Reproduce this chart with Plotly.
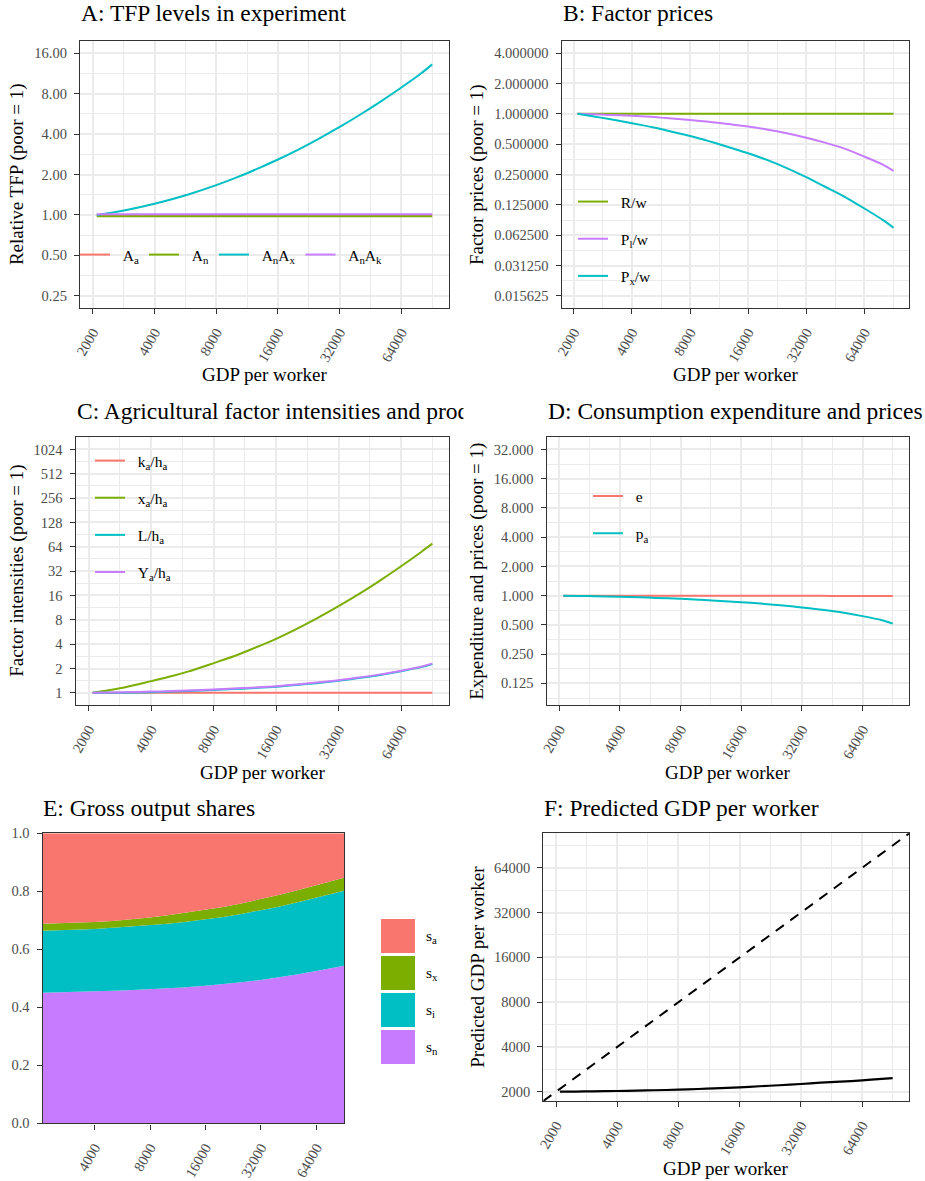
import numpy as np
import plotly.graph_objects as go

W, H = 925, 1181
FONT = "Liberation Serif, Times New Roman, serif"
RED, GREEN, CYAN, PURPLE = "#F8766D", "#7CAE00", "#00BFC4", "#C77CFF"
SP = "\u2002"  # en space between legend key and label

# ---------------- data ----------------
gdp = [2090, 2500, 3000, 4000, 5000, 6000, 8000, 10000, 12000, 16000,
       20000, 25000, 32000, 40000, 50000, 64000, 80000, 90500]

# A: TFP levels
tfp_Aa = [1.0, 1.0, 1.0, 1.0, 1.0, 1.0, 1.0, 1.0, 1.0, 1.0, 1.0, 1.0, 1.0, 1.0, 1.0, 1.0, 1.0, 1.0]
tfp_An = [0.98, 0.98, 0.98, 0.98, 0.98, 0.98, 0.98, 0.98, 0.98, 0.98, 0.98, 0.98, 0.98, 0.98, 0.98, 0.98, 0.98, 0.98]
tfp_AnAx = [1.00, 1.043, 1.098, 1.211, 1.325, 1.439, 1.667, 1.895, 2.125, 2.585, 3.053, 3.652, 4.515, 5.542, 6.888, 8.884, 11.33, 13.2]
tfp_AnAk = [1.01, 1.01, 1.01, 1.01, 1.01, 1.01, 1.01, 1.01, 1.01, 1.01, 1.01, 1.01, 1.01, 1.01, 1.01, 1.01, 1.01, 1.01]
tfp_ticks = [0.25, 0.5, 1, 2, 4, 8, 16]

# B: factor prices
price_Rw = [1.0, 1.0, 1.0, 1.0, 1.0, 1.0, 1.0, 1.0, 1.0, 1.0, 1.0, 1.0, 1.0, 1.0, 1.0, 1.0, 1.0, 1.0]
price_Plw = [1.00, 0.99, 0.976, 0.955, 0.933, 0.908, 0.87, 0.835, 0.80, 0.75, 0.70, 0.646, 0.58, 0.518, 0.454, 0.376, 0.312, 0.272]
price_Pxw = [1.00, 0.946, 0.892, 0.807, 0.742, 0.688, 0.603, 0.536, 0.483, 0.406, 0.349, 0.293, 0.235, 0.189, 0.152, 0.115, 0.088, 0.074]
price_ticks = [0.015625, 0.03125, 0.0625, 0.125, 0.25, 0.5, 1, 2, 4]

# C: agricultural factor intensities
int_ka = [1.0, 1.0, 1.0, 1.0, 1.0, 1.0, 1.0, 1.0, 1.0, 1.0, 1.0, 1.0, 1.0, 1.0, 1.0, 1.0, 1.0, 1.0]
int_xa = [1.00, 1.079, 1.173, 1.395, 1.602, 1.828, 2.33, 2.83, 3.41, 4.66, 6.14, 8.28, 11.8, 16.6, 23.95, 36.8, 55.3, 70.0]
int_L = [1.0, 1.0, 1.005, 1.02, 1.035, 1.05, 1.085, 1.113, 1.14, 1.188, 1.247, 1.318, 1.413, 1.525, 1.655, 1.852, 2.08, 2.27]
int_Ya = [1.0, 1.007, 1.017, 1.035, 1.05, 1.065, 1.10, 1.13, 1.157, 1.206, 1.266, 1.338, 1.434, 1.548, 1.68, 1.88, 2.11, 2.30]
int_ticks = [1, 2, 4, 8, 16, 32, 64, 128, 256, 512, 1024]

# D: consumption expenditure and prices
exp_e = [1.0, 1.0, 1.0, 1.0, 1.0, 1.0, 1.0, 1.0, 1.0, 1.0, 1.0, 0.998, 0.997, 0.996, 0.995, 0.993, 0.991, 0.99]
prc_pa = [1.0, 0.994, 0.988, 0.977, 0.963, 0.949, 0.932, 0.908, 0.889, 0.858, 0.829, 0.796, 0.758, 0.717, 0.674, 0.616, 0.559, 0.516]
exp_ticks = [0.125, 0.25, 0.5, 1, 2, 4, 8, 16, 32]

# E: gross output shares
share_n = [0.450, 0.451, 0.452, 0.454, 0.457, 0.459, 0.462, 0.465, 0.468, 0.474, 0.479, 0.486, 0.494, 0.503, 0.513, 0.525, 0.536, 0.543]
share_i = [0.214, 0.214, 0.215, 0.216, 0.217, 0.218, 0.221, 0.223, 0.225, 0.229, 0.232, 0.236, 0.240, 0.244, 0.248, 0.254, 0.257, 0.259]
share_x = [0.024, 0.024, 0.024, 0.024, 0.024, 0.025, 0.027, 0.029, 0.031, 0.034, 0.035, 0.036, 0.038, 0.040, 0.042, 0.043, 0.044, 0.045]
share_a = [0.312, 0.311, 0.309, 0.306, 0.302, 0.298, 0.290, 0.283, 0.276, 0.263, 0.254, 0.242, 0.228, 0.213, 0.197, 0.178, 0.163, 0.153]
share_ticks = [0.0, 0.2, 0.4, 0.6, 0.8, 1.0]

# F: predicted GDP per worker
gdp_pred = [2000, 2004, 2010, 2021, 2033, 2045, 2062, 2085, 2105, 2137, 2175, 2210, 2252, 2300, 2335, 2383, 2440, 2470]
gdp_ticks = [2000, 4000, 8000, 16000, 32000, 64000]


# ---------------- helpers ----------------
def px(x):
    return x / W


def py(y):
    return 1 - y / H


def expand(lo, hi, mult=0.05):
    a, b = np.log10(lo), np.log10(hi)
    d = (b - a) * mult
    return [a - d, b + d]


def minors(ticks, rng):
    t = list(ticks)
    ext = [t[0] ** 2 / t[1]] + t + [t[-1] ** 2 / t[-2]]
    mids = [np.sqrt(ext[i] * ext[i + 1]) for i in range(len(ext) - 1)]
    return [m for m in mids if rng[0] <= np.log10(m) <= rng[1]]


def axis(domain, anchor, tickvals, ticktext, rng, typ="log", grid=True, angle=None):
    d = dict(domain=domain, anchor=anchor, type=typ, range=rng, automargin=False,
             tickmode="array", tickvals=tickvals, ticktext=ticktext,
             showline=True, mirror=True, linecolor="#333333", linewidth=1.4,
             ticks="outside", ticklen=5, tickwidth=1.3, tickcolor="#333333",
             ticklabelstandoff=4,
             tickfont=dict(family=FONT, size=14.5, color="#4D4D4D"),
             showgrid=grid, gridcolor="#EBEBEB", gridwidth=2, zeroline=False)
    if grid and typ == "log":
        d["minor"] = dict(tickmode="array", tickvals=minors(tickvals, rng),
                          showgrid=True, gridcolor="#EBEBEB", gridwidth=1, ticks="")
    if angle is not None:
        d["tickangle"] = angle
    return d


xr = expand(min(gdp), max(gdp))
gdp_text = [str(v) for v in gdp_ticks]

# panel boxes in pixels: (left, top, right, bottom)
boxes = {
    "A": (80, 41, 449, 308),
    "B": (561.7, 41, 909.3, 308),
    "C": (75.7, 437.3, 449.3, 705),
    "D": (546.7, 437.3, 909.3, 705),
    "E": (42.7, 833.3, 344, 1123.3),
    "F": (543.3, 833.3, 909.3, 1101),
}


def dom(key):
    l, t, r, b = boxes[key]
    return [px(l), px(r)], [py(b), py(t)]


fig = go.Figure()


def line(x, y, name, color, xa, ya, legend=None, show=True, width=2.0, dash=None, group=None,
         shape="spline"):
    fig.add_trace(go.Scatter(
        x=x, y=y, name=(SP + name) if show else name, mode="lines", xaxis=xa, yaxis=ya,
        line=dict(color=color, width=width, dash=dash, shape=shape, smoothing=0.8),
        showlegend=show, legend=legend, legendgroup=group, hoverinfo="skip"))


# A
line(gdp, tfp_Aa, "A<sub>a</sub>", RED, "x", "y", "legend")
line(gdp, tfp_An, "A<sub>n</sub>", GREEN, "x", "y", "legend")
line(gdp, tfp_AnAx, "A<sub>n</sub>A<sub>x</sub>", CYAN, "x", "y", "legend")
line(gdp, tfp_AnAk, "A<sub>n</sub>A<sub>k</sub>", PURPLE, "x", "y", "legend")
# B
line(gdp, price_Rw, "R/w", GREEN, "x2", "y2", "legend2", group="b1")
line(gdp, price_Plw, "P<sub>l</sub>/w", PURPLE, "x2", "y2", "legend2", group="b2")
line(gdp, price_Pxw, "P<sub>x</sub>/w", CYAN, "x2", "y2", "legend2", group="b3")
# C
line(gdp, int_ka, "k<sub>a</sub>/h<sub>a</sub>", RED, "x3", "y3", "legend3", group="c1")
line(gdp, int_xa, "x<sub>a</sub>/h<sub>a</sub>", GREEN, "x3", "y3", "legend3", group="c2")
line(gdp, int_L, "L/h<sub>a</sub>", CYAN, "x3", "y3", "legend3", group="c3")
line(gdp, int_Ya, "Y<sub>a</sub>/h<sub>a</sub>", PURPLE, "x3", "y3", "legend3", group="c4")
# D
line(gdp, exp_e, "e", RED, "x4", "y4", "legend4", group="d1")
line(gdp, prc_pa, "p<sub>a</sub>", CYAN, "x4", "y4", "legend4", group="d2")
# E (stacked areas, bottom to top)
for vals, col, nm in [(share_n, PURPLE, "s_n"), (share_i, CYAN, "s_i"),
                      (share_x, GREEN, "s_x"), (share_a, RED, "s_a")]:
    fig.add_trace(go.Scatter(x=gdp, y=vals, name=nm, mode="lines", stackgroup="e",
                             fillcolor=col, line=dict(width=0, color=col),
                             xaxis="x5", yaxis="y5", showlegend=False, hoverinfo="skip"))
# F
diag = [10 ** xr[0], 10 ** xr[1]]
line(diag, diag, "45 degree", "black", "x6", "y6", show=False, width=2.0, dash="10px,8px",
     shape="linear")
line(gdp, gdp_pred, "Predicted", "black", "x6", "y6", show=False, width=2.2)

# ---------------- axes ----------------
layout = dict(width=W, height=H, margin=dict(l=0, r=0, t=0, b=0, autoexpand=False),
              paper_bgcolor="white", plot_bgcolor="white",
              font=dict(family=FONT, color="black"))

yrA = expand(0.25, 16)
yrB = expand(1 / 64, 4)
yrC = expand(1, 1024)
yrD = expand(0.1, 32)
xrE = [np.log10(min(gdp)), np.log10(max(gdp))]

xd, yd = dom("A")
layout["xaxis"] = axis(xd, "y", gdp_ticks, gdp_text, xr, angle=-60)
layout["yaxis"] = axis(yd, "x", tfp_ticks, ["%.2f" % v for v in tfp_ticks], yrA)
xd, yd = dom("B")
layout["xaxis2"] = axis(xd, "y2", gdp_ticks, gdp_text, xr, angle=-60)
layout["yaxis2"] = axis(yd, "x2", price_ticks, ["%.6f" % v for v in price_ticks], yrB)
xd, yd = dom("C")
layout["xaxis3"] = axis(xd, "y3", gdp_ticks, gdp_text, xr, angle=-60)
layout["yaxis3"] = axis(yd, "x3", int_ticks, [str(v) for v in int_ticks], yrC)
xd, yd = dom("D")
layout["xaxis4"] = axis(xd, "y4", gdp_ticks, gdp_text, xr, angle=-60)
layout["yaxis4"] = axis(yd, "x4", exp_ticks, ["%.3f" % v for v in exp_ticks], yrD)
xd, yd = dom("E")
layout["xaxis5"] = axis(xd, "y5", gdp_ticks, gdp_text, xrE, grid=False, angle=-60)
layout["yaxis5"] = axis(yd, "x5", share_ticks, ["%.1f" % v for v in share_ticks], [0, 1],
                        typ="linear", grid=False)
xd, yd = dom("F")
layout["xaxis6"] = axis(xd, "y6", gdp_ticks, gdp_text, xr, angle=-60)
layout["yaxis6"] = axis(yd, "x6", gdp_ticks, gdp_text, xr)

# ---------------- legends ----------------
lfont = dict(family=FONT, size=15.5, color="black")
common_leg = dict(bgcolor="rgba(0,0,0,0)", font=lfont, itemwidth=30)
layout["legend"] = dict(orientation="h", x=px(75), y=py(255), xanchor="left", yanchor="middle",
                        traceorder="normal", **common_leg)
layout["legend2"] = dict(x=px(573), y=py(185), xanchor="left", yanchor="top",
                         tracegroupgap=14, traceorder="grouped", **common_leg)
layout["legend3"] = dict(x=px(90), y=py(444), xanchor="left", yanchor="top",
                         tracegroupgap=14, traceorder="grouped", **common_leg)
layout["legend4"] = dict(x=px(588), y=py(479.5), xanchor="left", yanchor="top",
                         tracegroupgap=14, traceorder="grouped", **common_leg)

# ---------------- text ----------------
ann = []


def text(x, y, s, size, xanchor="left", angle=0, color="black", **kw):
    ann.append(dict(x=px(x), y=py(y), xref="paper", yref="paper", text=s, showarrow=False,
                    xanchor=xanchor, yanchor="middle", textangle=angle,
                    font=dict(family=FONT, size=size, color=color), **kw))


TS, AS = 23.5, 19
text(79, 13.5, "A: TFP levels in experiment", TS)
text(560.7, 13.5, "B: Factor prices", TS)
text(74.7, 410.5, "C: Agricultural factor intensities and productivity", TS)
# cover: panel C title is clipped at its cell edge
ann.append(dict(x=px(462.5), y=py(410), xref="paper", yref="paper", text=" ", showarrow=False,
                xanchor="left", yanchor="middle", width=80, height=40, bgcolor="white"))
text(546.3, 410.5, "D: Consumption expenditure and prices", TS)
text(41.3, 807.5, "E: Gross output shares", TS)
text(542.3, 807.5, "F: Predicted GDP per worker", TS)

# axis titles
for key in ["A", "B", "C", "D", "F"]:
    l, t, r, b = boxes[key]
    ty = {"A": 374.6, "B": 374.6, "C": 772, "D": 772, "F": 1168.6}[key]
    text((l + r) / 2, ty, "GDP per worker", AS, xanchor="center")
ytitles = {"A": (17.6, "Relative TFP (poor = 1)"),
           "B": (477.6, "Factor prices (poor = 1)"),
           "C": (17.6, "Factor intensities (poor = 1)"),
           "D": (477.6, "Expenditure and prices (poor = 1)"),
           "F": (477.6, "Predicted GDP per worker")}
for key, (xx, s) in ytitles.items():
    l, t, r, b = boxes[key]
    text(xx, (t + b) / 2, s, AS, xanchor="center", angle=-90)

# E legend (manual keys)
e_keys = [("s<sub>a</sub>", RED), ("s<sub>x</sub>", GREEN), ("s<sub>i</sub>", CYAN), ("s<sub>n</sub>", PURPLE)]
shapes = []
for i, (lab, col) in enumerate(e_keys):
    top = 919 + i * 37
    shapes.append(dict(type="rect", xref="paper", yref="paper", x0=px(381), x1=px(415),
                       y0=py(top + 34), y1=py(top), fillcolor=col, line=dict(width=0)))
    text(424, top + 17, lab, 15.5)

layout["annotations"] = ann
layout["shapes"] = shapes
fig.update_layout(**layout)
fig.write_html("out.html")
